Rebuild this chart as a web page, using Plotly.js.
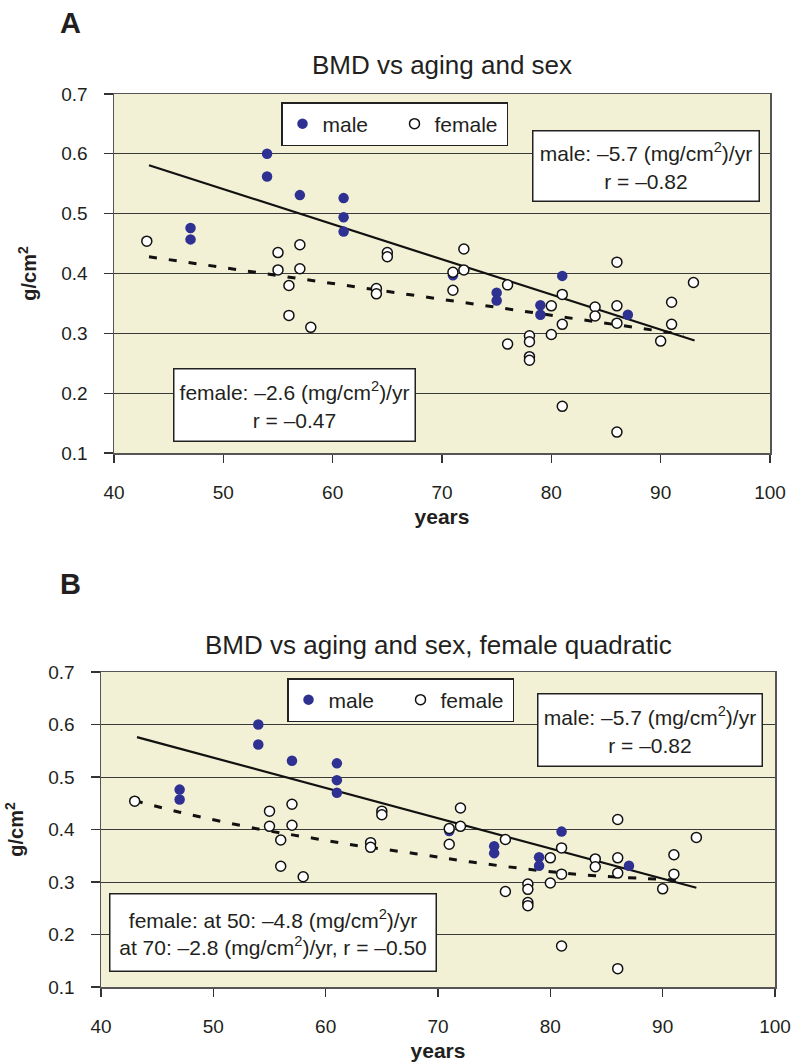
<!DOCTYPE html>
<html><head><meta charset="utf-8">
<script src="https://cdn.plot.ly/plotly-3.0.1.min.js"></script>
<style>html,body{margin:0;padding:0;background:#fff}#chart{width:791px;height:1064px}</style>
</head><body><div id="chart"></div>
<script>
// ---- data ----
const maleAge = [47,47,54,54,57,61,61,61,71,75,75,79,79,81,87];
const maleBMD = [0.476,0.457,0.600,0.562,0.531,0.526,0.494,0.470,0.397,0.368,0.355,0.347,0.331,0.396,0.331];
const femaleAge = [43,55,55,56,56,57,57,58,64,64,65,65,71,71,72,72,76,76,78,78,78,78,80,80,81,81,81,84,84,86,86,86,86,90,91,91,93];
const femaleBMD = [0.454,0.435,0.406,0.380,0.330,0.448,0.408,0.310,0.375,0.366,0.435,0.428,0.402,0.372,0.441,0.406,0.381,0.282,0.296,0.286,0.261,0.255,0.346,0.298,0.365,0.315,0.178,0.344,0.329,0.419,0.346,0.317,0.135,0.287,0.352,0.315,0.385];
// fitted lines as drawn in the reference
const maleFitAgeA = [43.2, 93.1];
const maleFitA = [0.581, 0.288];
const femaleFitAgeA = [43.2, 92.1];
const femaleFitA = [0.428, 0.298];
const maleFitAgeB = [43.2, 93.0];
const maleFitB = [0.576, 0.289];
const femaleQuadAge = [43, 47, 54, 59, 62, 68, 73, 79, 84, 90, 92];
const femaleQuad = [0.455, 0.433, 0.401, 0.383, 0.372, 0.354, 0.338, 0.322, 0.312, 0.305, 0.303];
const xTicks = [40, 50, 60, 70, 80, 90, 100];
const yTicks = [0.1, 0.2, 0.3, 0.4, 0.5, 0.6, 0.7];

const W = 791, H = 1064;
const FONT = 'Liberation Sans, Arial, sans-serif';
const TXT = '#231f20';
const BLUE = '#2e3192';
const px = v => v / W;
const py = v => 1 - v / H;

const maleMarker = {color: BLUE, size: 10.5, line: {width: 0}};
const femaleMarker = {color: '#ffffff', size: 10, line: {color: '#111', width: 1.5}};

const traces = [
  {x: maleFitAgeA, y: maleFitA, mode: 'lines', line: {color: '#111', width: 2.2}, showlegend: false, xaxis: 'x', yaxis: 'y', hoverinfo: 'skip'},
  {x: femaleFitAgeA, y: femaleFitA, mode: 'lines', line: {color: '#111', width: 3, dash: '8px,12px'}, showlegend: false, xaxis: 'x', yaxis: 'y', hoverinfo: 'skip'},
  {x: maleAge, y: maleBMD, mode: 'markers', name: 'male', marker: maleMarker, xaxis: 'x', yaxis: 'y', legend: 'legend'},
  {x: femaleAge, y: femaleBMD, mode: 'markers', name: 'female', marker: femaleMarker, xaxis: 'x', yaxis: 'y', legend: 'legend'},
  {x: maleFitAgeB, y: maleFitB, mode: 'lines', line: {color: '#111', width: 2.2}, showlegend: false, xaxis: 'x2', yaxis: 'y2', hoverinfo: 'skip'},
  {x: femaleQuadAge, y: femaleQuad, mode: 'lines', line: {color: '#111', width: 3, dash: '8px,12px', shape: 'spline', smoothing: 1}, showlegend: false, xaxis: 'x2', yaxis: 'y2', hoverinfo: 'skip'},
  {x: maleAge, y: maleBMD, mode: 'markers', name: 'male', marker: maleMarker, xaxis: 'x2', yaxis: 'y2', legend: 'legend2'},
  {x: femaleAge, y: femaleBMD, mode: 'markers', name: 'female', marker: femaleMarker, xaxis: 'x2', yaxis: 'y2', legend: 'legend2'}
];

function xa(domain, anchor) {
  return {
    domain: domain, anchor: anchor, range: [40, 100], tickvals: xTicks, ticktext: xTicks.map(String),
    showgrid: false, zeroline: false, showline: true, mirror: true, linecolor: '#555', linewidth: 1.5,
    ticks: 'outside', ticklen: 8, tickcolor: '#333', tickwidth: 1.2,
    tickfont: {family: FONT, size: 19, color: TXT}, ticklabelstandoff: 14,
    title: {text: '<b>years</b>', font: {family: FONT, size: 21, color: TXT}, standoff: 7}
  };
}
function ya(domain, anchor) {
  return {
    domain: domain, anchor: anchor, range: [0.1, 0.7], tickvals: yTicks, ticktext: yTicks.map(v => v.toFixed(1)),
    showgrid: true, gridcolor: '#3a3a3a', gridwidth: 1, zeroline: false, showline: true, mirror: true, linecolor: '#555', linewidth: 1.5,
    ticks: 'outside', ticklen: 9, tickcolor: '#333', tickwidth: 1.2,
    tickfont: {family: FONT, size: 19, color: TXT}, ticklabelstandoff: 12,
    title: {text: '<b>g/cm<sup>2</sup></b>', font: {family: FONT, size: 20, color: TXT}, standoff: 19}
  };
}

function box(text, cx, cy, w, h) {
  return {
    xref: 'paper', yref: 'paper', x: px(cx), y: py(cy), xanchor: 'center', yanchor: 'middle',
    text: text, showarrow: false, align: 'center', valign: 'middle',
    font: {family: FONT, size: 21, color: TXT},
    bgcolor: '#ffffff', bordercolor: '#222', borderwidth: 1.5, borderpad: 2,
    width: w - 7, height: h - 7
  };
}
function label(text, cx, cy, size, extra) {
  return Object.assign({
    xref: 'paper', yref: 'paper', x: px(cx), y: py(cy), xanchor: 'center', yanchor: 'middle',
    text: text, showarrow: false, font: {family: FONT, size: size, color: TXT}
  }, extra || {});
}
function legendBox(left, top) {
  return {x: px(left), y: py(top), xanchor: 'left', yanchor: 'top', orientation: 'h', bgcolor: '#fff', bordercolor: '#222', borderwidth: 1.5,
          font: {family: FONT, size: 21, color: TXT}, entrywidth: 67, entrywidthmode: 'pixels', itemwidth: 30};
}

const layout = {
  width: W, height: H, margin: {l: 0, r: 0, t: 0, b: 0},
  paper_bgcolor: '#ffffff', plot_bgcolor: '#f3f1d5',
  font: {family: FONT, color: TXT},
  title: {text: 'BMD vs aging and sex', x: px(442), xanchor: 'center', y: py(65), yanchor: 'middle', xref: 'paper', yref: 'paper',
          font: {family: FONT, size: 26, color: TXT}},
  xaxis: xa([px(114), px(770)], 'y'),
  yaxis: ya([py(453), py(94)], 'x'),
  xaxis2: xa([px(101), px(775)], 'y2'),
  yaxis2: ya([py(987), py(672)], 'x2'),
  legend: legendBox(281, 102),
  legend2: legendBox(287, 678),
  annotations: [
    label('<b>A</b>', 70, 23, 29),
    label('<b>B</b>', 70, 584, 29),
    label('BMD vs aging and sex, female quadratic', 438, 645, 26),
    box('male: \u20135.7 (mg/cm<sup>2</sup>)/yr<br>r = \u20130.82', 646, 166, 228, 72),
    box('female: \u20132.6 (mg/cm<sup>2</sup>)/yr<br>r = \u20130.47', 294, 405, 243, 74),
    box('male: \u20135.7 (mg/cm<sup>2</sup>)/yr<br>r = \u20130.82', 650, 730, 226, 74),
    box('female: at 50: \u20134.8 (mg/cm<sup>2</sup>)/yr<br>at 70: \u20132.8 (mg/cm<sup>2</sup>)/yr, r = \u20130.50', 273, 932, 328, 79)
  ]
};

Plotly.newPlot('chart', traces, layout, {staticPlot: true, displayModeBar: false});
</script>
</body></html>
